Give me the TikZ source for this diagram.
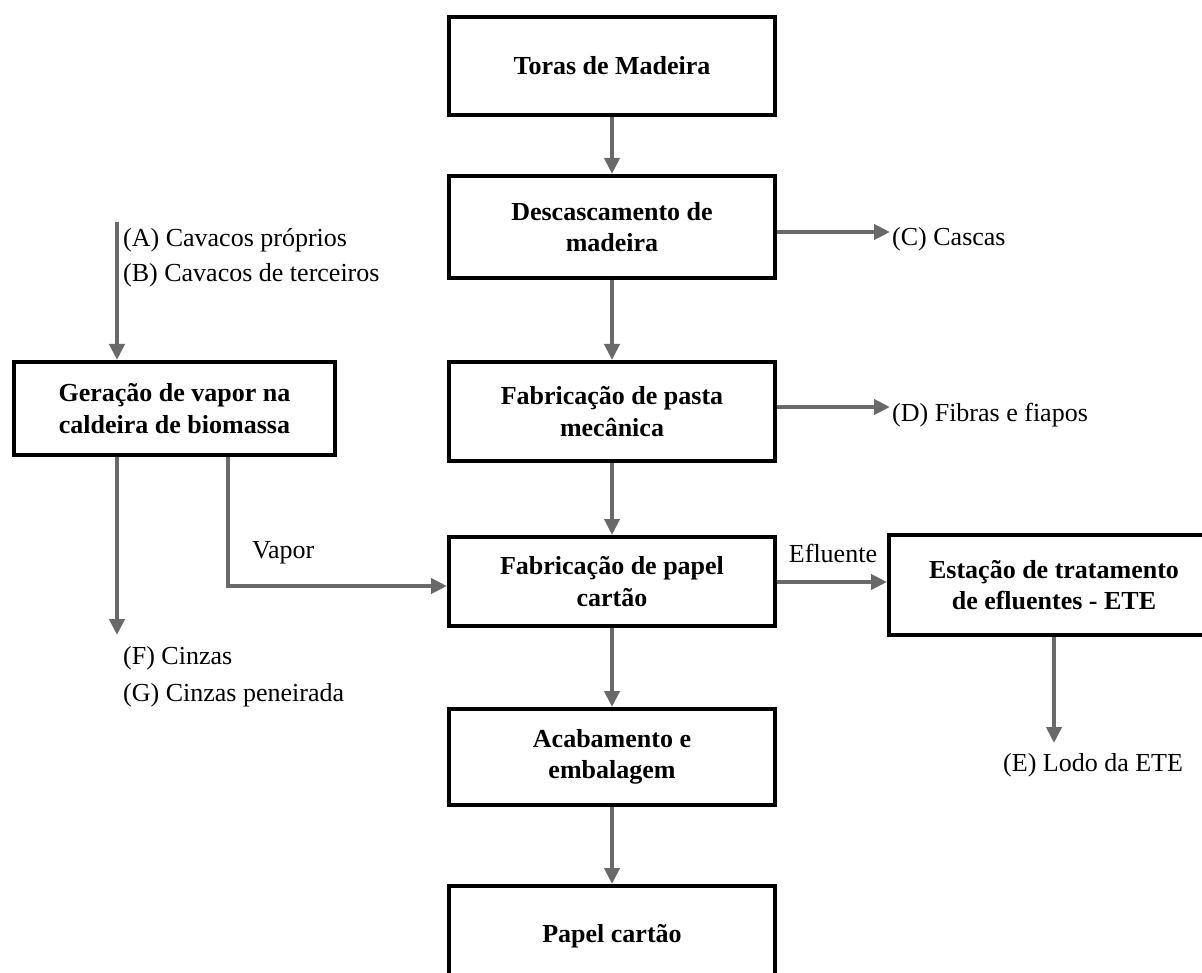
\documentclass[tikz,border=0pt]{standalone}
\usepackage{fontspec}
\setmainfont{Liberation Serif}
\usetikzlibrary{arrows.meta}
\definecolor{arrowgray}{RGB}{105,105,105}
\begin{document}
\begin{tikzpicture}[x=1pt,y=-1pt,
  procbox/.style={draw=black,line width=4pt,fill=white,align=center,
    font=\fontsize{26}{31.5}\selectfont\bfseries,inner sep=0pt,
    minimum width=326pt},
  lbl/.style={font=\fontsize{26}{31.5}\selectfont,inner sep=0pt,anchor=west},
  flow/.style={draw=arrowgray,line width=4pt,
    -{Triangle[length=16pt,width=15pt]}}]
\useasboundingbox (0,0) rectangle (1202,973);
\clip (0,0) rectangle (1202,973);
\fill[white] (0,0) rectangle (1202,973);

% process boxes
\node[procbox,minimum height=98pt] (toras) at (612,66) {Toras de Madeira};
\node[procbox,minimum height=102pt] (desc) at (612,227) {Descascamento de\\madeira};
\node[procbox,minimum height=99pt] (pasta) at (612,411.5) {Fabricação de pasta\\mecânica};
\node[procbox,minimum height=89pt] (papel) at (612,581.5) {Fabricação de papel\\cartão};
\node[procbox,minimum height=96pt] (acab) at (612,757) {Acabamento e\\embalagem};
\node[procbox,minimum height=100pt] (papelc) at (612,936) {Papel cartão};
\node[procbox,minimum width=321pt,minimum height=93pt] (ger) at (174.5,408.5) {Geração de vapor na\\caldeira de biomassa};
\node[procbox,minimum width=330pt,minimum height=100pt] (ete) at (1054,585) {Estação de tratamento\\de efluentes - ETE};

% free ends
\coordinate (Cend) at (890,232);
\coordinate (Dend) at (890,407);
\coordinate (Astart) at (117,222);
\coordinate (Fend) at (117,635);
\coordinate (Vtop) at (228,0);
\coordinate (Vcorner) at (228,586);
\coordinate (Eend) at (1054,743);

% main chain
\draw[flow] (toras.south) -- (desc.north);
\draw[flow] (desc.south) -- (pasta.north);
\draw[flow] (pasta.south) -- (papel.north);
\draw[flow] (papel.south) -- (acab.north);
\draw[flow] (acab.south) -- (papelc.north);

% side outputs
\draw[flow] (desc.east |- Cend) -- (Cend);
\draw[flow] (pasta.east |- Dend) -- (Dend);
\draw[flow] (papel.east |- 0,582) -- (ete.west |- 0,582);
\draw[flow] (ete.south) -- (Eend);

% boiler
\draw[flow] (Astart) -- (Astart |- ger.north);
\draw[flow] (ger.south -| Fend) -- (Fend);
\draw[flow] (ger.south -| Vtop) -- (Vcorner) -- (papel.west |- Vcorner);

% labels
\node[lbl] (la) at (123,240) {(A) Cavacos próprios};
\node[lbl] (lb) at (123,275) {(B) Cavacos de terceiros};
\node[lbl] (lc) at (892,239) {(C) Cascas};
\node[lbl] (ld) at (892,415) {(D) Fibras e fiapos};
\node[lbl,anchor=center] (lef) at (833,553) {Efluente};
\node[lbl] (lv) at (252,553) {Vapor};
\node[lbl] (lf) at (123,658) {(F) Cinzas};
\node[lbl] (lg) at (123,695) {(G) Cinzas peneirada};
\node[lbl] (le) at (1003,765) {(E) Lodo da ETE};
\end{tikzpicture}
\end{document}
